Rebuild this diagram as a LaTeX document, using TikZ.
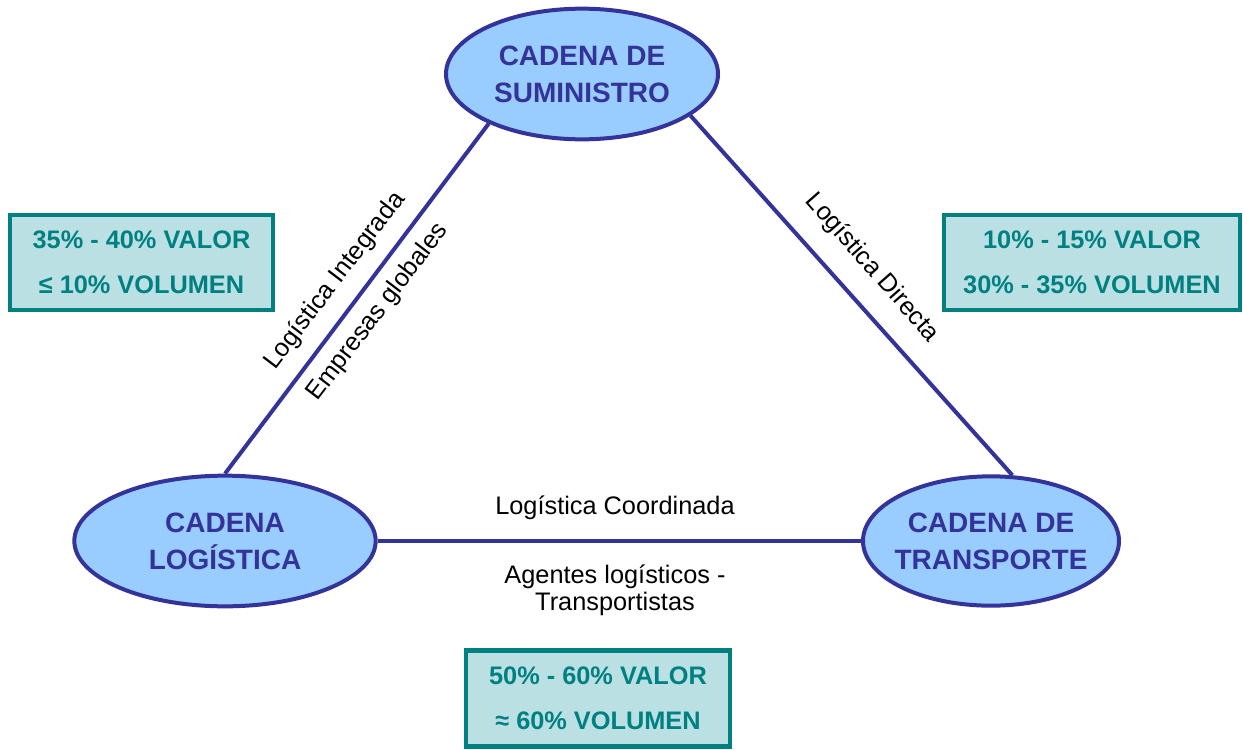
\documentclass[tikz,border=0pt]{standalone}
\usepackage{fontspec}
\setmainfont{Liberation Sans}
\usetikzlibrary{shapes.geometric}
\definecolor{ellfill}{HTML}{99CCFF}
\definecolor{navy}{HTML}{333399}
\definecolor{boxfill}{HTML}{BAE0E4}
\definecolor{teal2}{HTML}{008080}
\tikzset{
  chain/.style={ellipse, draw=navy, fill=ellfill, line width=3pt, inner sep=0pt},
  chaintext/.style={inner sep=0pt, text=navy, align=center, font=\fontsize{21}{27.75}\selectfont\bfseries},
  databox/.style={draw=teal2, fill=boxfill, line width=3.2pt, inner sep=0pt,
    text=teal2, align=center, font=\fontsize{19}{34}\selectfont\bfseries},
  link/.style={draw=navy, line width=3pt},
  lbl/.style={inner sep=0pt, align=center, font=\fontsize{19}{20.5}\selectfont}
}
\begin{document}
\begin{tikzpicture}[x=0.75pt,y=-0.75pt]
\useasboundingbox (0,0) rectangle (1243,750);
% ellipses
\node[chain, minimum width=204pt, minimum height=98pt] (sum) at (582,74) {};
\node[chaintext] (sumT) at (sum.center) {CADENA DE\\SUMINISTRO};
\node[chain, minimum width=226pt, minimum height=98pt] (log) at (225,541) {};
\node[chaintext] (logT) at (log.center) {CADENA\\LOGÍSTICA};
\node[chain, minimum width=192pt, minimum height=97pt] (tra) at (991,541) {};
\node[chaintext] (traT) at (tra.center) {CADENA DE\\TRANSPORTE};
% connectors
\draw[link] (sum.208.6) -- (log.90);
\draw[link] (sum.-21.3) -- (tra.72);
\draw[link] (log.0) -- (tra.180);
% line labels
\node[lbl, rotate=52.7] (li) at (335,281) {Logística Integrada};
\node[lbl, rotate=52.7] (eg) at (378,312) {Empresas globales};
\node[lbl, rotate=-48.7] (ld) at (872,268) {Logística Directa};
\node[lbl] (lc) at (615,508) {Logística Coordinada};
\node[lbl] (at) at (615,590) {Agentes logísticos -\\Transportistas};
% boxes
\node[databox, minimum width=197pt, minimum height=71pt] (bl) at (141.5,262.5) {35\% - 40\% VALOR\\≤ 10\% VOLUMEN};
\node[databox, minimum width=222pt, minimum height=71pt] (br) at (1092,262.5) {10\% - 15\% VALOR\\30\% - 35\% VOLUMEN};
\node[databox, minimum width=198pt, minimum height=72pt] (bb) at (598,698.5) {50\% - 60\% VALOR\\≈ 60\% VOLUMEN};
\end{tikzpicture}
\end{document}
